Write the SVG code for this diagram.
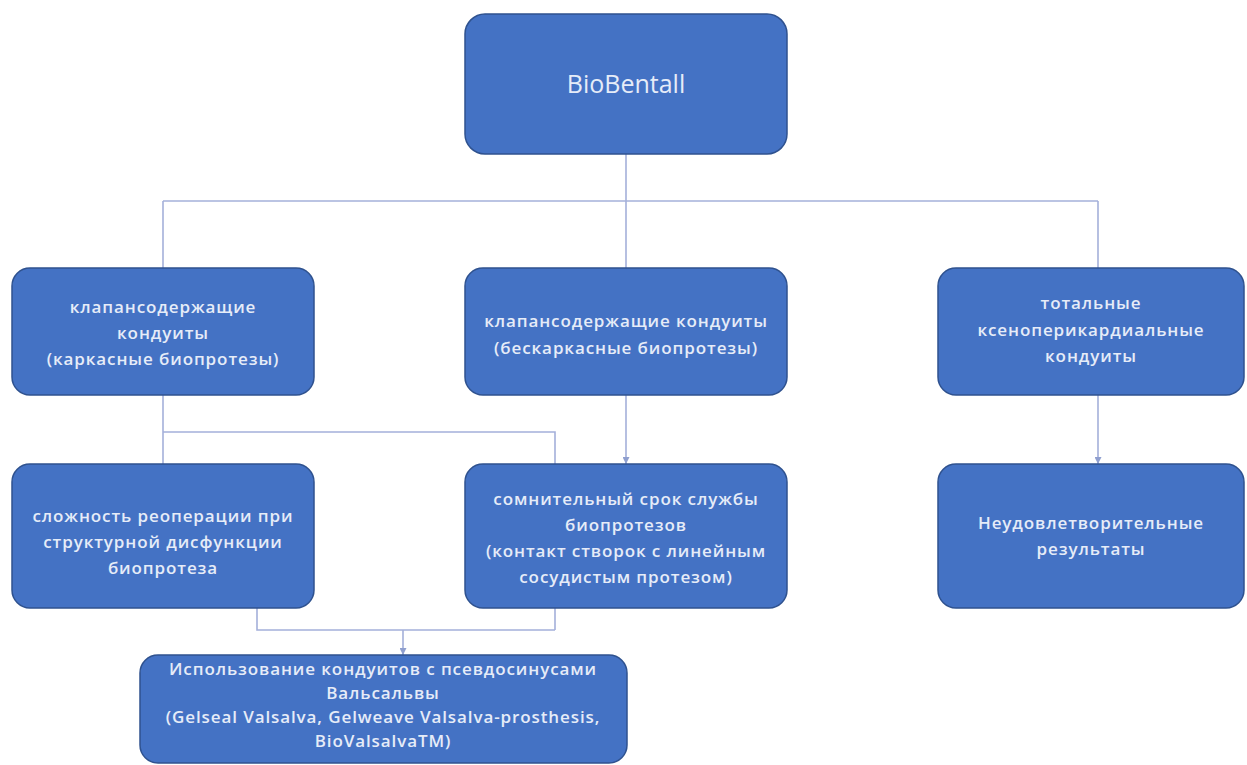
<svg xmlns="http://www.w3.org/2000/svg" width="1247" height="765" viewBox="0 0 1247 765">
  <defs>
    <marker id="arrow" viewBox="0 0 10 10" refX="10" refY="5" markerWidth="7" markerHeight="7" markerUnits="userSpaceOnUse" orient="auto">
      <path d="M0 0 L10 5 L0 10 z" fill="#8f9fcf"/>
    </marker>
    <style>
      .box { fill: #4472c4; stroke: #2f528f; stroke-width: 1.5; }
      .lbl { font-family: "Open Sans", "Liberation Sans", sans-serif; font-size: 17px; font-weight: 600; letter-spacing: 0.9px; fill: #e6ecf8; text-anchor: middle; }
      .title { font-size: 25px; font-weight: 400; letter-spacing: 0; }
      .link { fill: none; stroke: #a4b0da; stroke-width: 1.6; }
      .arr { marker-end: url(#arrow); }
    </style>
  </defs>
  <rect width="1247" height="765" fill="#ffffff"/>

  <!-- connectors (drawn under the boxes) -->
  <g id="connectors">
    <path class="link" d="M626 154 V201"/>
    <path class="link" d="M163 201 H1098"/>
    <path class="link" d="M163 201 V268"/>
    <path class="link" d="M626 201 V268"/>
    <path class="link" d="M1098 201 V268"/>
    <path class="link" d="M163 395 V464"/>
    <path class="link" d="M163 432 H555 V630"/>
    <path class="link arr" d="M626 395 V464"/>
    <path class="link arr" d="M1098 395 V464"/>
    <path class="link" d="M257 608 V630 H555"/>
    <path class="link arr" d="M403 630 V655"/>
  </g>

  <g id="node-biobentall">
    <rect class="box" x="465" y="14" width="322" height="140" rx="20"/>
    <text class="lbl title" x="626" y="93">BioBentall</text>
  </g>

  <g id="node-framed">
    <rect class="box" x="12" y="268" width="302" height="127" rx="18"/>
    <text class="lbl" x="163" y="313">клапансодержащие</text>
    <text class="lbl" x="163" y="339">кондуиты</text>
    <text class="lbl" x="163" y="365">(каркасные биопротезы)</text>
  </g>

  <g id="node-frameless">
    <rect class="box" x="465" y="268" width="322" height="127" rx="18"/>
    <text class="lbl" x="626" y="327">клапансодержащие кондуиты</text>
    <text class="lbl" x="626" y="354">(бескаркасные биопротезы)</text>
  </g>

  <g id="node-xenopericardial">
    <rect class="box" x="938" y="268" width="306" height="127" rx="18"/>
    <text class="lbl" x="1091" y="309">тотальные</text>
    <text class="lbl" x="1091" y="336">ксеноперикардиальные</text>
    <text class="lbl" x="1091" y="362">кондуиты</text>
  </g>

  <g id="node-reoperation">
    <rect class="box" x="12" y="464" width="302" height="144" rx="18"/>
    <text class="lbl" x="163" y="522">сложность реоперации при</text>
    <text class="lbl" x="163" y="548">структурной дисфункции</text>
    <text class="lbl" x="163" y="574">биопротеза</text>
  </g>

  <g id="node-durability">
    <rect class="box" x="465" y="464" width="322" height="144" rx="18"/>
    <text class="lbl" x="626" y="505">сомнительный срок службы</text>
    <text class="lbl" x="626" y="531">биопротезов</text>
    <text class="lbl" x="626" y="557">(контакт створок с линейным</text>
    <text class="lbl" x="626" y="583">сосудистым протезом)</text>
  </g>

  <g id="node-unsatisfactory">
    <rect class="box" x="938" y="464" width="306" height="144" rx="18"/>
    <text class="lbl" x="1091" y="529">Неудовлетворительные</text>
    <text class="lbl" x="1091" y="555">результаты</text>
  </g>

  <g id="node-valsalva">
    <rect class="box" x="140" y="655" width="487" height="108" rx="18"/>
    <text class="lbl" x="383" y="675">Использование кондуитов с псевдосинусами</text>
    <text class="lbl" x="383" y="699">Вальсальвы</text>
    <text class="lbl" x="383" y="723">(Gelseal Valsalva, Gelweave Valsalva-prosthesis,</text>
    <text class="lbl" x="383" y="747">BioValsalvaTM)</text>
  </g>
</svg>
